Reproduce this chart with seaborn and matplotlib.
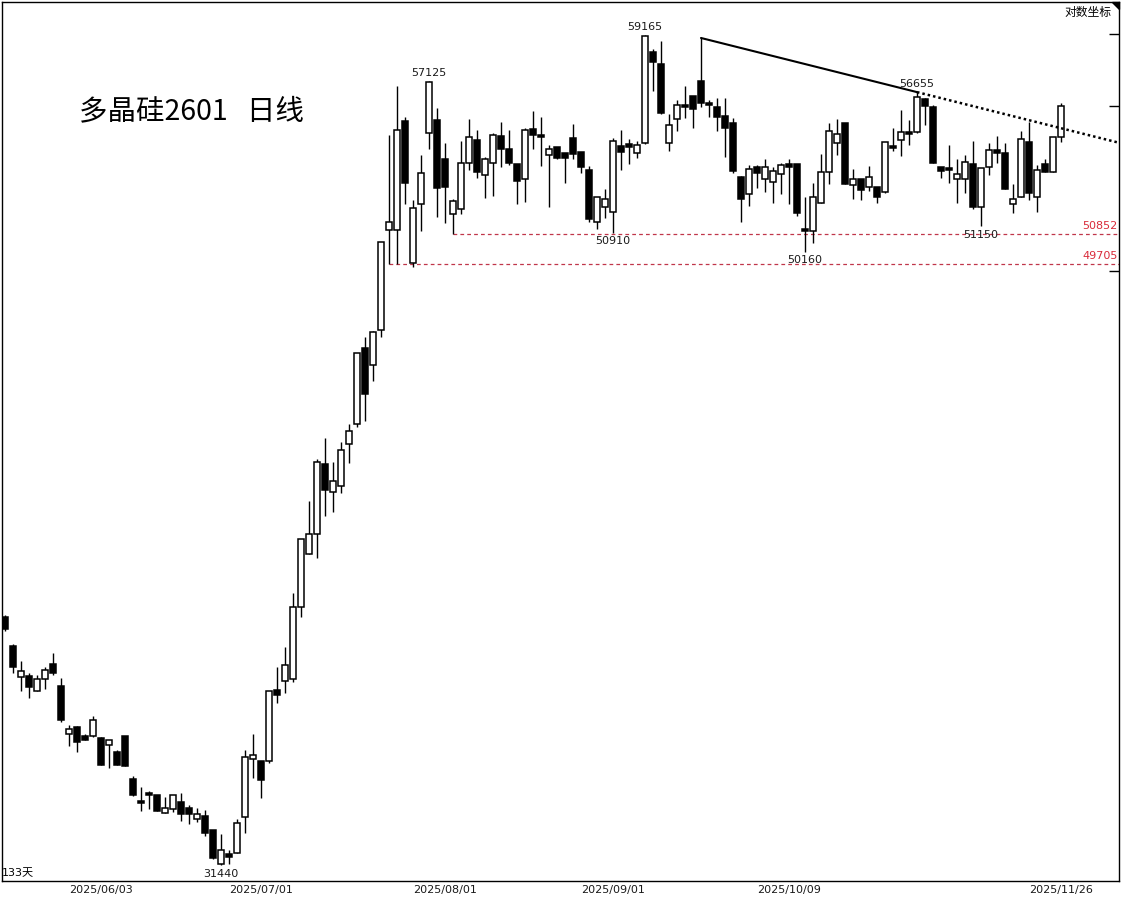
import numpy as np
import pandas as pd
import matplotlib
matplotlib.use("Agg")
import matplotlib.pyplot as plt
from matplotlib.patches import Polygon
from matplotlib.ticker import NullLocator, FixedLocator
import seaborn as sns

# ---------------- data ----------------
opens = [37990, 37160, 36290, 36320, 35905, 36235, 36650, 36045, 34750, 34935,
         34695, 34695, 34645, 34460, 34275, 34695, 33580, 33020, 33220, 33170,
         32720, 32820, 32995, 32845, 32570, 32645, 32298, 31475, 31715, 31740,
         32620, 34095, 34040, 34040, 35935, 36180, 36235, 38275, 39855, 40465,
         42680, 41780, 41970, 43335, 44000, 46625, 46025, 47265, 51005, 51005,
         55425, 49740, 52030, 54920, 55465, 53840, 51635, 51830, 53675, 54625,
         53190, 53675, 54795, 54255, 53635, 53030, 55085, 54835, 54005, 54335,
         54090, 54710, 54130, 53390, 51320, 51910, 51710, 54380, 54460, 54090,
         54500, 58415, 57880, 54500, 55505, 56100, 56490, 57135, 56185, 56015,
         55635, 55340, 53110, 52425, 53515, 53030, 52905, 53230, 53635, 53635,
         51045, 50970, 52070, 53310, 54500, 55340, 52785, 53030, 52705, 52705,
         52505, 54380, 54625, 54960, 54960, 56360, 56015, 53515, 53475, 53030,
         53030, 53635, 51910, 53515, 54210, 54090, 52030, 52305, 54545, 52305,
         53635, 53310, 54750]
highs = [38045, 37200, 36735, 36400, 36345, 36570, 36960, 36260, 34990, 34960,
         34750, 35230, 34660, 34600, 34330, 34700, 33655, 33375, 33275, 33180,
         33120, 33180, 33220, 32920, 32845, 32795, 32300, 32200, 31810, 32570,
         34330, 34750, 34050, 35910, 36570, 37130, 38690, 40315, 41495, 42845,
         43535, 42745, 43405, 44000, 46450, 47015, 47230, 50545, 54835, 56920,
         55590, 52185, 54005, 57125, 55975, 54500, 52225, 54585, 55505, 55045,
         53925, 54920, 55380, 55045, 53640, 55130, 55845, 55590, 54420, 54340,
         54095, 55295, 54135, 53555, 52305, 52625, 54710, 55045, 54670, 54585,
         59165, 58545, 58905, 55720, 56315, 56920, 56495, 59040, 56315, 56400,
         56400, 55550, 53150, 53595, 53595, 53840, 53515, 53675, 53840, 53640,
         52305, 52865, 54045, 55340, 55505, 55345, 53430, 53035, 53555, 52710,
         54545, 55130, 55890, 55465, 56655, 56400, 56100, 53520, 54420, 53840,
         54005, 54585, 53475, 54500, 54795, 54500, 52825, 55000, 55380, 53595,
         53840, 54750, 56185]
lows = [37585, 36400, 35905, 35715, 35900, 35960, 36345, 35070, 34435, 34275,
        34590, 34670, 33935, 33860, 33935, 33910, 33145, 32770, 32820, 32765,
        32715, 32745, 32520, 32445, 32495, 32150, 31590, 31440, 31460, 31735,
        32225, 33605, 33095, 34000, 35580, 35850, 36150, 37985, 39850, 39735,
        41025, 41150, 41750, 42715, 43900, 44100, 45465, 47015, 49705, 49720,
        52030, 49590, 50970, 54255, 51515, 51280, 50852, 51635, 53390, 53070,
        52265, 52345, 53515, 53595, 52030, 52105, 54255, 53555, 51910, 53840,
        52865, 53840, 53270, 51320, 51045, 51475, 50910, 53390, 53635, 53880,
        54460, 56705, 55720, 54170, 55000, 55550, 55130, 56015, 55590, 55000,
        53925, 53270, 51320, 51950, 52665, 52505, 52070, 52425, 52030, 51555,
        50160, 50505, 52065, 52825, 54005, 52825, 52225, 52185, 52545, 52070,
        52465, 54170, 53965, 54420, 54920, 55255, 53675, 53070, 52865, 52070,
        52465, 51830, 51150, 53190, 53675, 52625, 51670, 52300, 52185, 51710,
        53310, 53300, 54545]
closes = [37640, 36570, 36455, 36015, 36235, 36485, 36400, 35120, 34880, 34540,
          34600, 35120, 33940, 34590, 33940, 33915, 33170, 32970, 33170, 32770,
          32845, 33170, 32695, 32695, 32695, 32225, 31617, 31810, 31640, 32470,
          34145, 34195, 33550, 35905, 35795, 36625, 38275, 40310, 40465, 42745,
          41845, 42130, 43140, 43770, 46445, 45020, 47195, 50540, 51320, 55045,
          52865, 51870, 53270, 57100, 52665, 52705, 52145, 53675, 54750, 53310,
          53840, 54835, 54255, 53675, 52945, 55045, 54835, 54750, 54255, 53880,
          53880, 54045, 53515, 51435, 52300, 52225, 54585, 54130, 54335, 54420,
          59120, 57970, 55760, 55255, 56100, 56015, 55930, 56185, 56100, 55590,
          55130, 53350, 52225, 53430, 53270, 53515, 53350, 53595, 53515, 51670,
          50970, 52305, 53310, 55000, 54875, 52830, 53030, 52585, 53110, 52305,
          54540, 54295, 54960, 54875, 56445, 56060, 53680, 53350, 53390, 53230,
          53720, 51910, 53475, 54210, 54090, 52630, 52225, 54670, 52465, 53390,
          53310, 54750, 56060]

tick_idx = [12, 32, 55, 76, 98, 132]
tick_labels = ["2025/06/03", "2025/07/01", "2025/08/01", "2025/09/01",
               "2025/10/09", "2025/11/26"]

peak_idx = [53, 80, 114]
peak_vals = [57125, 59165, 56655]
trough_idx = [27, 76, 100, 122]
trough_vals = [31440, 50910, 50160, 51150]

support_levels = [50852, 49705]
support_start = [56, 48]

trend_idx = [87, 114]
trend_vals = [59040, 56655]

right_ticks = [59200, 56050, 49440]

title = "多晶硅2601   日线"
days_label = "133天"
scale_label = "对数坐标"

# ---------------- figure ----------------
sns.set_theme(style="white")
plt.rcParams["font.family"] = ["DejaVu Sans", "Noto Sans CJK SC"]

W, H = 1125, 899
fig = plt.figure(figsize=(W / 100, H / 100), dpi=100)
fig.patch.set_facecolor("white")
ax = fig.add_axes([2 / W, (H - 881) / H, 1117 / W, 879 / H])
ax.set_facecolor("white")

df = pd.DataFrame({"open": opens, "high": highs, "low": lows, "close": closes})
df["i"] = np.arange(len(df))
up = df["close"] >= df["open"]
body_lo = np.minimum(df["open"], df["close"])
body_h = np.maximum(np.abs(df["close"] - df["open"]), 8)

ax.set_yscale("log")
ax.vlines(df["i"], df["low"], df["high"], color="black", lw=1.0, zorder=2)
ax.bar(df["i"][up], body_h[up], bottom=body_lo[up], width=0.64,
       color="white", edgecolor="black", linewidth=1.1, zorder=3)
ax.bar(df["i"][~up], body_h[~up], bottom=body_lo[~up], width=0.64,
       color="black", edgecolor="black", linewidth=1.1, zorder=3)

xmin, xmax = -0.375, 139.25
ax.set_xlim(xmin, xmax)
ax.set_ylim(31067, 60680)

# support lines
red_line = "#c0364a"
red_txt = "#d92b3a"
for lvl, st in zip(support_levels, support_start):
    ax.hlines(lvl, st, xmax, colors=red_line, linestyles=(0, (3, 2.5)), lw=0.9, zorder=1)
    ax.annotate(str(lvl), xy=(1.0, lvl), xycoords=("axes fraction", "data"),
                xytext=(-1, 6), textcoords="offset points", ha="right", va="center",
                fontsize=8, color=red_txt)

# trend line (solid between anchors, dotted extension)
tr = pd.DataFrame({"i": trend_idx, "v": trend_vals})
sns.lineplot(data=tr, x="i", y="v", ax=ax, color="black", lw=1.5, zorder=4)
slope = (np.log(trend_vals[1]) - np.log(trend_vals[0])) / (trend_idx[1] - trend_idx[0])
ext_v = np.exp(np.log(trend_vals[1]) + slope * (xmax - trend_idx[1]))
ax.plot([trend_idx[1], xmax], [trend_vals[1], ext_v], color="black", lw=1.8,
        linestyle=(0, (1, 1.2)), zorder=4)
ax.set_xlabel("")
ax.set_ylabel("")

# peak / trough labels
for i, v in zip(peak_idx, peak_vals):
    ax.annotate(str(v), xy=(i, v), xytext=(0, 6), textcoords="offset points",
                ha="center", va="center", fontsize=8, color="#1a1a1a", zorder=5)
for i, v in zip(trough_idx, trough_vals):
    ax.annotate(str(v), xy=(i, v), xytext=(0, -6), textcoords="offset points",
                ha="center", va="center", fontsize=8, color="#1a1a1a", zorder=5)

# axes styling
for s in ax.spines.values():
    s.set_color("black")
    s.set_linewidth(1.0)
    s.set_visible(True)
ax.set_xticks(tick_idx)
ax.set_xticklabels(tick_labels, fontsize=8, color="#1a1a1a")
ax.tick_params(axis="x", length=0, pad=3)
ax.yaxis.set_major_locator(FixedLocator(right_ticks))
ax.yaxis.set_minor_locator(NullLocator())
ax.yaxis.tick_right()
ax.tick_params(axis="y", which="major", direction="in", length=7, width=1.0,
               labelright=False, labelleft=False, color="black")
ax.grid(False)

# texts
fig.text(79 / W, 1 - 111 / H, title, fontsize=20.5, family=["Noto Sans CJK SC"],
         ha="left", va="center", color="black")
fig.text(1111 / W, 1 - 12 / H, scale_label, fontsize=8.5,
         family=["Noto Sans CJK SC"], ha="right", va="center", color="black")
fig.text(2 / W, 1 - 873 / H, days_label, fontsize=8,
         family=["DejaVu Sans", "Noto Sans CJK SC"], ha="left", va="center", color="black")
tri = Polygon([[1112 / W, 1 - 2 / H], [1119 / W, 1 - 2 / H], [1119 / W, 1 - 9 / H]],
              closed=True, transform=fig.transFigure, color="black")
fig.add_artist(tri)

fig.savefig("out.png", dpi=100, facecolor="white")
